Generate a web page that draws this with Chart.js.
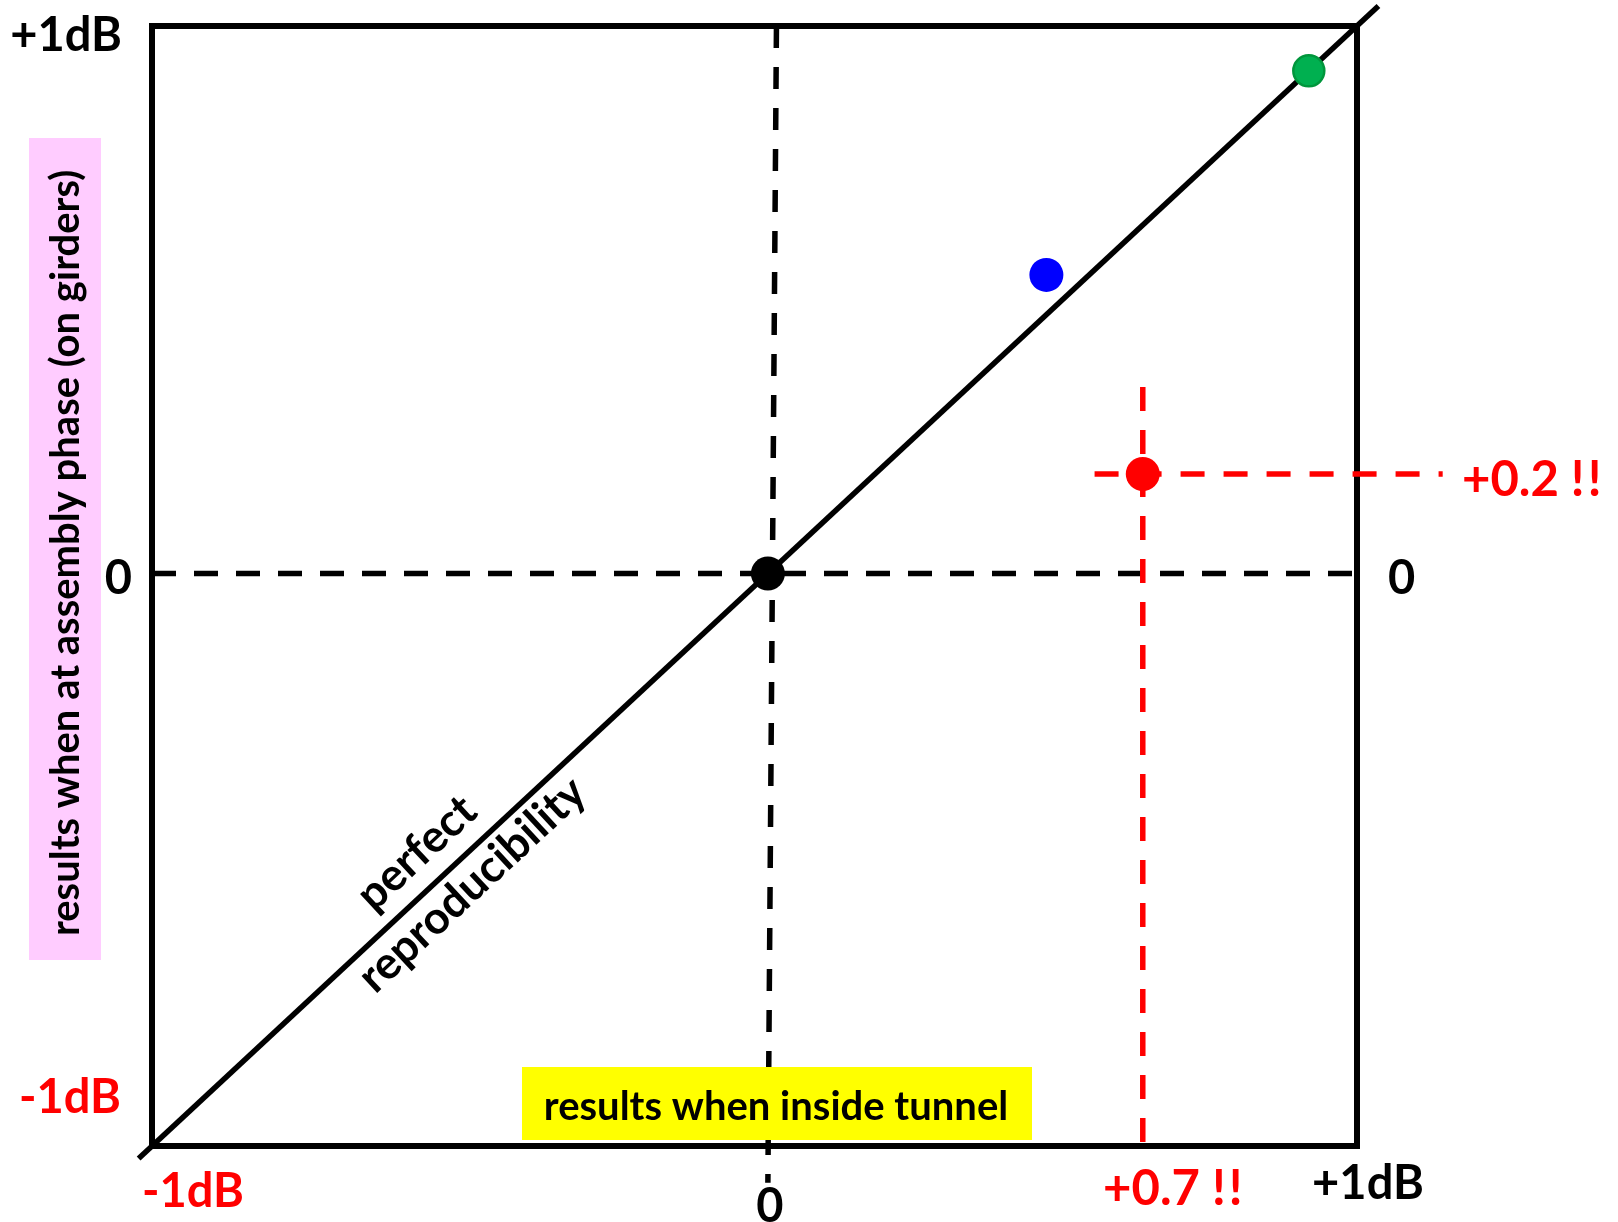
<!DOCTYPE html>
<html>
<head>
<meta charset="utf-8">
<script src="https://cdn.jsdelivr.net/npm/chart.js@4.4.0/dist/chart.umd.min.js"></script>
<style>
  html, body { margin: 0; padding: 0; background: #ffffff; }
  canvas { display: block; }
</style>
</head>
<body>
<canvas id="chart" width="1618" height="1222"></canvas>
<script>
// Shared axis range (dB) for both axes
const AXIS_MIN = -1.15;
const AXIS_MAX = 1.1;

// Axis labels: [low end, zero, high end]
const xAxisLabels = ['-1dB', '0', '+1dB'];
const yAxisLabels = ['-1dB', '0', '+1dB'];

// Measured results: x = inside tunnel, y = at assembly phase
const pointNames = ['origin', 'blue', 'green', 'red'];
const pointX = [0, 0.52, 1.01, 0.7];
const pointY = [0, 0.60, 1.01, 0.2];

// Perfect reproducibility line (y = x)
const diagonalSpan = [-1.175, 1.14];

// Zero reference lines
const zeroHLineX = [-1.15, 1.1];
const zeroVLineX = [0.016, 0];
const zeroVLineY = [1.1, -1.224];

// Guides through the red point
const redGuideHX = [0.61, 1.26];
const redGuideVY = [0.375, -1.17];

const xAxisTitle = 'results when inside tunnel';
const yAxisTitle = 'results when at assembly phase (on girders)';
const diagonalLabels = ['perfect', 'reproducibility'];

// Marker styles
const pointFill = ['#000000', '#0000ff', '#00b050', '#ff0000'];
const pointEdge = ['#000000', '#0000ff', '#00963c', '#ff0000'];
const pointEdgeWidth = [0, 0, 2.5, 0];
const pointSize = [17, 17, 15.5, 17];

const RED = '#ff0000';
const FONT = 'Lato, "Open Sans", sans-serif';
const CAP = 0.358; // half cap height of the label font, in em

const redIdx = pointNames.indexOf('red');
const redX = pointX[redIdx];
const redY = pointY[redIdx];
// hair space keeps the two exclamation marks apart
const fmt = v => (v > 0 ? '+' : '') + v.toFixed(1) + ' !\u200A!';

const background = {
  id: 'background',
  beforeDraw(chart) {
    const c = chart.ctx;
    c.save();
    c.fillStyle = '#ffffff';
    c.fillRect(0, 0, chart.width, chart.height);
    c.restore();
  }
};

const frame = {
  id: 'frame',
  beforeDatasetsDraw(chart) {
    const { ctx, chartArea: a } = chart;
    ctx.save();
    ctx.strokeStyle = '#000000';
    ctx.lineWidth = 6;
    ctx.lineJoin = 'miter';
    ctx.strokeRect(a.left, a.top, a.right - a.left, a.bottom - a.top);
    ctx.restore();
  }
};

function text(ctx, str, x, yCenter, size, color, align) {
  ctx.font = 'bold ' + size + 'px ' + FONT;
  ctx.fillStyle = color;
  ctx.textAlign = align;
  ctx.textBaseline = 'alphabetic';
  ctx.fillText(str, x, yCenter + CAP * size);
}

const annotations = {
  id: 'annotations',
  afterDatasetsDraw(chart) {
    const { ctx, chartArea: a, scales } = chart;
    const xs = scales.x, ys = scales.y;
    ctx.save();

    // x-axis title on yellow
    ctx.fillStyle = '#ffff00';
    ctx.fillRect(522, a.bottom - 79, 510, 73);
    ctx.font = 'bold 40px ' + FONT;
    ctx.fillStyle = '#000000';
    ctx.textAlign = 'center';
    ctx.textBaseline = 'alphabetic';
    ctx.fillText(xAxisTitle, 776, a.bottom - 26);

    // y-axis title on pink, reading upwards
    ctx.fillStyle = '#ffccff';
    ctx.fillRect(29, 138, 72, 822);
    ctx.save();
    ctx.translate(79, 553);
    ctx.rotate(-Math.PI / 2);
    ctx.font = 'bold 40px ' + FONT;
    ctx.fillStyle = '#000000';
    ctx.textAlign = 'center';
    ctx.textBaseline = 'alphabetic';
    ctx.fillText(yAxisTitle, 0, 0);
    ctx.restore();

    // y-axis labels
    const y0 = ys.getPixelForValue(0);
    text(ctx, yAxisLabels[2], a.left - 30, a.top + 8, 47, '#000000', 'right');
    text(ctx, yAxisLabels[1], a.left - 20, y0 + 4, 47, '#000000', 'right');
    text(ctx, yAxisLabels[0], a.left - 31, a.bottom - 50, 47, RED, 'right');
    text(ctx, yAxisLabels[1], a.right + 31, y0 + 4, 47, '#000000', 'left');

    // x-axis labels
    const x0 = xs.getPixelForValue(0);
    text(ctx, xAxisLabels[0], a.left + 41, a.bottom + 44, 47, RED, 'center');
    text(ctx, xAxisLabels[1], x0 + 2, a.bottom + 59, 47, '#000000', 'center');
    text(ctx, xAxisLabels[2], a.right + 11, a.bottom + 36, 47, '#000000', 'center');

    // red point values
    text(ctx, fmt(redX), xs.getPixelForValue(redX) + 30, a.bottom + 41, 49, RED, 'center');
    text(ctx, fmt(redY), a.right + 105, ys.getPixelForValue(redY) + 4, 49, RED, 'left');

    // labels along the diagonal
    const p1 = { x: xs.getPixelForValue(diagonalSpan[0]), y: ys.getPixelForValue(diagonalSpan[0]) };
    const p2 = { x: xs.getPixelForValue(diagonalSpan[1]), y: ys.getPixelForValue(diagonalSpan[1]) };
    const ang = Math.atan2(p2.y - p1.y, p2.x - p1.x);
    const along = [-0.612, -0.586];
    const offset = [-32, 29];
    const size = 45;
    ctx.font = 'bold ' + size + 'px ' + FONT;
    ctx.fillStyle = '#000000';
    ctx.textAlign = 'center';
    ctx.textBaseline = 'alphabetic';
    diagonalLabels.forEach((lbl, i) => {
      ctx.save();
      ctx.translate(xs.getPixelForValue(along[i]), ys.getPixelForValue(along[i]));
      ctx.rotate(ang);
      ctx.fillText(lbl, 0, offset[i] + 0.27 * size);
      ctx.restore();
    });

    ctx.restore();
  }
};

const lineStyle = (color, width, dash) => ({
  showLine: true,
  borderColor: color,
  borderWidth: width,
  borderDash: dash,
  pointRadius: 0,
  pointHoverRadius: 0,
  fill: false,
  clip: false
});

new Chart(document.getElementById('chart'), {
  type: 'scatter',
  data: {
    datasets: [
      {
        label: 'results',
        data: pointX.map((x, i) => ({ x, y: pointY[i] })),
        pointRadius: pointSize,
        pointHoverRadius: pointSize,
        pointBackgroundColor: pointFill,
        pointBorderColor: pointEdge,
        pointBorderWidth: pointEdgeWidth,
        showLine: false,
        clip: false
      },
      Object.assign({ label: 'guide x', data: redGuideVY.map(y => ({ x: redX, y })) }, lineStyle(RED, 5.5, [24, 19])),
      Object.assign({ label: 'guide y', data: redGuideHX.map(x => ({ x, y: redY })) }, lineStyle(RED, 5.5, [24, 19])),
      Object.assign({ label: 'perfect reproducibility', data: diagonalSpan.map(v => ({ x: v, y: v })) }, lineStyle('#000000', 5.5, [])),
      Object.assign({ label: 'zero x', data: zeroVLineX.map((x, i) => ({ x, y: zeroVLineY[i] })) }, lineStyle('#000000', 5.5, [22, 19])),
      Object.assign({ label: 'zero y', data: zeroHLineX.map(x => ({ x, y: 0 })) }, lineStyle('#000000', 5.5, [24, 18]))
    ]
  },
  options: {
    responsive: false,
    devicePixelRatio: 1,
    animation: false,
    events: [],
    layout: { padding: { left: 152, top: 26, right: 261, bottom: 76 } },
    scales: {
      x: { type: 'linear', min: AXIS_MIN, max: AXIS_MAX, display: false },
      y: { type: 'linear', min: AXIS_MIN, max: AXIS_MAX, display: false }
    },
    plugins: {
      legend: { display: false },
      tooltip: { enabled: false }
    }
  },
  plugins: [background, frame, annotations]
});
</script>
</body>
</html>
